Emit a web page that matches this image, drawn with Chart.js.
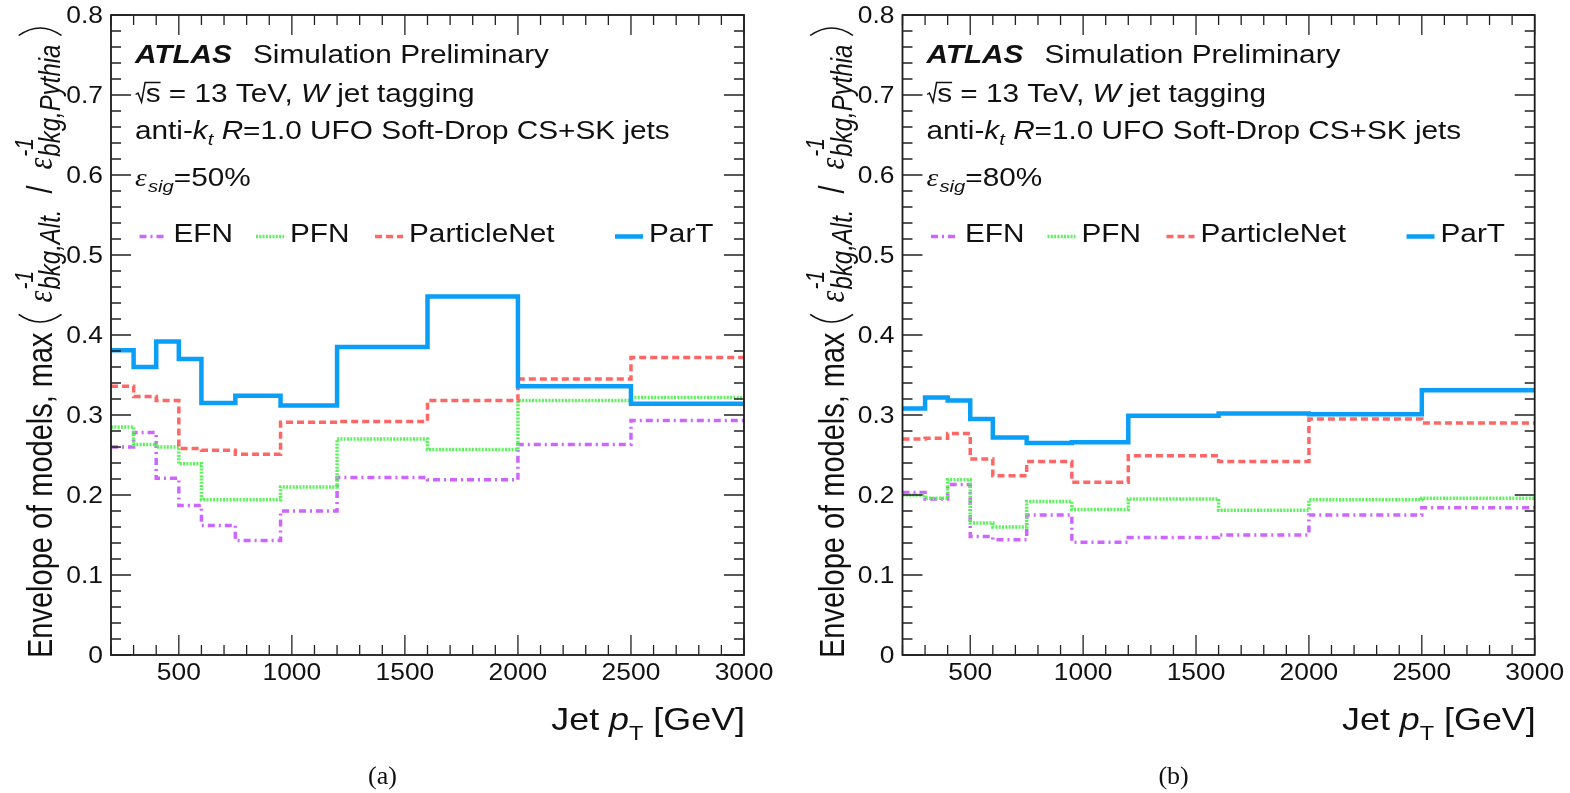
<!DOCTYPE html>
<html><head><meta charset="utf-8">
<script src="https://cdn.jsdelivr.net/npm/chart.js@4.4.1/dist/chart.umd.min.js"></script>
<style>
html,body{margin:0;padding:0;background:#fff;width:1570px;height:793px;overflow:hidden}
canvas{position:absolute;top:0}
#ca{left:0}
#cb{left:785px}
</style></head><body>
<canvas id="ca" width="785" height="793"></canvas>
<canvas id="cb" width="785" height="793"></canvas>
<script>
// ---------------- data ----------------
const binEdges = [200,300,400,500,600,750,950,1200,1600,2000,2500,3000];
const seriesNames = ['EFN','PFN','ParticleNet','ParT'];
// panel (a): eps_sig = 50%
const efn50  = [0.260,0.278,0.221,0.187,0.162,0.143,0.180,0.222,0.219,0.263,0.293];
const pfn50  = [0.285,0.263,0.260,0.239,0.194,0.194,0.210,0.270,0.257,0.318,0.322];
const pnet50 = [0.336,0.323,0.318,0.258,0.256,0.251,0.291,0.292,0.318,0.345,0.372];
const part50 = [0.381,0.360,0.392,0.370,0.315,0.324,0.312,0.385,0.448,0.336,0.314];
// panel (b): eps_sig = 80%
const efn80  = [0.203,0.195,0.213,0.148,0.144,0.175,0.141,0.147,0.150,0.175,0.184];
const pfn80  = [0.200,0.196,0.219,0.165,0.160,0.192,0.182,0.195,0.181,0.194,0.196];
const pnet80 = [0.270,0.271,0.277,0.245,0.224,0.242,0.216,0.249,0.242,0.295,0.290];
const part80 = [0.308,0.322,0.318,0.295,0.272,0.265,0.266,0.299,0.302,0.301,0.331];
const xTickLabels = [500,1000,1500,2000,2500,3000];
const yTickLabels = [0,0.1,0.2,0.3,0.4,0.5,0.6,0.7,0.8];

// ---------------- styles ----------------
const styles = {
  EFN:         {color:'#cc66ff', dash:[7,4,2,4], width:3.5},
  PFN:         {color:'#5cf25c', dash:[2,1.3],   width:3.5},
  ParticleNet: {color:'#ff6666', dash:[7,4],     width:3.5},
  ParT:        {color:'#0b9ef7', dash:[],        width:4.5}
};
const SX = 1.19;
const SANS = '"Liberation Sans", Arial, Helvetica, sans-serif';
const SERIF = '"Liberation Serif", "Times New Roman", serif';
const F = (st, sz, fam) => `${st} ${sz}px ${fam || SANS}`;
const INK = '#111';

function runs(ctx, list, draw) {
  let cx = 0;
  for (const r of list) {
    if (r.gap !== undefined) { cx += r.gap; continue; }
    if (r.paren) {
      if (draw) {
        ctx.save(); ctx.lineWidth = 1.4; ctx.strokeStyle = INK; ctx.beginPath();
        const w = r.w, t = r.top, b = r.bot, m = (t + b) / 2;
        if (r.paren === '(') { ctx.moveTo(cx + w, t); ctx.quadraticCurveTo(cx - w * 0.7, m, cx + w, b); }
        else { ctx.moveTo(cx, t); ctx.quadraticCurveTo(cx + w * 1.7, m, cx, b); }
        ctx.stroke(); ctx.restore();
      }
      cx += r.w; continue;
    }
    if (r.sqrt) {
      ctx.font = r.f; const sw = ctx.measureText(r.sqrt).width;
      if (draw) {
        ctx.save(); ctx.lineWidth = 1.3; ctx.strokeStyle = INK; ctx.beginPath();
        ctx.moveTo(cx + 0.5, -7); ctx.lineTo(cx + 2.5, -8.5); ctx.lineTo(cx + 5.5, 0.5);
        ctx.lineTo(cx + 8.5, -19); ctx.lineTo(cx + 9 + sw, -19); ctx.stroke(); ctx.restore();
        ctx.fillText(r.sqrt, cx + 9, 0);
      }
      cx += 9 + sw; continue;
    }
    if (r.sup !== undefined) {
      ctx.font = r.fsup; const w1 = ctx.measureText(r.sup).width;
      if (draw) ctx.fillText(r.sup, cx, r.supDy);
      ctx.font = r.fsub; const w2 = ctx.measureText(r.sub).width;
      if (draw) ctx.fillText(r.sub, cx, r.subDy);
      cx += Math.max(w1, w2); continue;
    }
    ctx.font = r.f;
    if (draw) ctx.fillText(r.t, cx, r.dy || 0);
    cx += ctx.measureText(r.t).width;
  }
  return cx;
}

function textAt(ctx, x, y, list, align, sx) {
  const k = sx || SX;
  ctx.save();
  ctx.textBaseline = 'alphabetic'; ctx.textAlign = 'left'; ctx.fillStyle = INK;
  const w = runs(ctx, list, false) * k;
  let x0 = x;
  if (align === 'right') x0 = x - w;
  if (align === 'center') x0 = x - w / 2;
  ctx.translate(x0, y); ctx.scale(k, 1);
  runs(ctx, list, true);
  ctx.restore();
}

const atlasPlugin = {
  id: 'atlasDecor',
  afterDraw(chart, args, opts) {
    const ctx = chart.ctx, ca = chart.chartArea;
    const xs = chart.scales.x, ys = chart.scales.y;
    const L = ca.left, R = ca.right, T = ca.top, B = ca.bottom;
    ctx.save();
    // frame
    ctx.strokeStyle = '#1a1a1a'; ctx.lineWidth = 1.8;
    ctx.strokeRect(L, T, R - L, B - T);
    // ticks
    ctx.lineWidth = 1.3; ctx.strokeStyle = '#222';
    ctx.beginPath();
    const xMajor = xs.ticks.map(t => t.value);
    for (let v = xs.min; v <= xs.max + 1e-9; v += 100) {
      const px = xs.getPixelForValue(v);
      const len = xMajor.includes(v) ? 20 : 10;
      ctx.moveTo(px, B); ctx.lineTo(px, B - len);
      ctx.moveTo(px, T); ctx.lineTo(px, T + len);
    }
    for (let i = 0; i <= 40; i++) {
      const v = i * 0.02;
      const py = ys.getPixelForValue(v);
      const len = (i % 5 === 0) ? 20 : 10;
      ctx.moveTo(L, py); ctx.lineTo(L + len, py);
      ctx.moveTo(R, py); ctx.lineTo(R - len, py);
    }
    ctx.stroke();
    // tick labels
    const TSX = 1.1;
    ctx.fillStyle = INK; ctx.font = F('', 24);
    ctx.textBaseline = 'alphabetic'; ctx.textAlign = 'center';
    for (const t of xs.ticks) {
      ctx.save(); ctx.translate(xs.getPixelForValue(t.value), 680); ctx.scale(TSX, 1);
      ctx.fillText(String(t.value), 0, 0); ctx.restore();
    }
    ctx.textBaseline = 'middle'; ctx.textAlign = 'right';
    for (const t of ys.ticks) {
      ctx.save(); ctx.translate(L - 8, ys.getPixelForValue(t.value) + 1); ctx.scale(TSX, 1);
      ctx.fillText(t.value === 0 ? '0' : t.value.toFixed(1), 0, 0); ctx.restore();
    }
    // x title
    textAt(ctx, R + 1, 730, [
      {t: 'Jet ', f: F('', 32)}, {t: 'p', f: F('italic', 32)},
      {t: 'T', f: F('', 21), dy: 10}, {t: ' [GeV]', f: F('', 32)}
    ], 'right', 1.12);
    // y title (rotated)
    ctx.save();
    ctx.translate(L - 59, 658); ctx.rotate(-Math.PI / 2); ctx.scale(1, SX);
    ctx.fillStyle = INK; ctx.textBaseline = 'alphabetic'; ctx.textAlign = 'left';
    const epsF = F('italic', 30, SERIF), supF = F('italic', 21), subF = F('italic', 24);
    runs(ctx, [
      {t: 'Envelope of models, max', f: F('', 29)}, {gap: 9},
      {paren: '(', w: 9, top: -28, bot: 8}, {gap: 12},
      {t: 'ε', f: epsF}, {gap: 1},
      {sup: '-1', sub: 'bkg,Alt.', fsup: supF, fsub: subF, supDy: -16, subDy: 7},
      {gap: 16}, {t: '/', f: F('', 29)}, {gap: 16},
      {t: 'ε', f: epsF}, {gap: 1},
      {sup: '-1', sub: 'bkg,Pythia', fsup: supF, fsub: subF, supDy: -16, subDy: 7},
      {gap: 9}, {paren: ')', w: 9, top: -28, bot: 8}
    ], true);
    ctx.restore();
    // ATLAS header
    const hx = L + 24;
    textAt(ctx, hx, 62.5, [{t: 'ATLAS', f: F('italic bold', 25)}]);
    textAt(ctx, L + 142, 62.5, [{t: 'Simulation Preliminary', f: F('', 25)}]);
    textAt(ctx, hx, 101.5, [
      {sqrt: 's', f: F('', 25)}, {t: ' = 13 TeV, ', f: F('', 25)},
      {t: 'W', f: F('italic', 25)}, {t: ' jet tagging', f: F('', 25)}
    ]);
    textAt(ctx, hx, 138.5, [
      {t: 'anti-', f: F('', 25)}, {t: 'k', f: F('italic', 25)},
      {t: 't', f: F('italic', 17), dy: 6}, {t: ' ', f: F('', 25)},
      {t: 'R', f: F('italic', 25)}, {t: '=1.0 UFO Soft-Drop CS+SK jets', f: F('', 25)}
    ]);
    textAt(ctx, hx, 185.5, [
      {t: 'ε', f: F('italic', 25, SERIF)}, {gap: 1},
      {t: 'sig', f: F('italic', 17), dy: 6}, {t: '=' + opts.eff, f: F('', 25)}
    ]);
    // legend
    const legTextX = [62.5, 179, 298, 538];
    chart.data.datasets.forEach((ds, i) => {
      const tx = L + legTextX[i];
      ctx.save();
      ctx.strokeStyle = ds.borderColor; ctx.lineWidth = ds.borderWidth;
      ctx.setLineDash(ds.borderDash || []);
      ctx.beginPath(); ctx.moveTo(tx - 34, 236.5); ctx.lineTo(tx - 6, 236.5); ctx.stroke();
      ctx.restore();
      textAt(ctx, tx, 242, [{t: ds.label, f: F('', 25)}]);
    });
    // caption (document text, not stretched)
    textAt(ctx, (L + R) / 2 - 45, 784, [{t: opts.caption, f: F('', 26, SERIF)}], 'center', 1.0);
    ctx.restore();
  }
};

function makeChart(id, vals, eff, caption, yWidth, padRight) {
  const datasets = seriesNames.map((n, i) => ({
    label: n,
    data: binEdges.map((e, k) => ({x: e, y: vals[i][Math.min(k, vals[i].length - 1)]})),
    borderColor: styles[n].color,
    borderDash: styles[n].dash,
    borderWidth: styles[n].width,
    borderCapStyle: 'butt',
    borderJoinStyle: 'miter',
    stepped: true,
    pointRadius: 0,
    fill: false,
    order: 3 - i
  }));
  return new Chart(document.getElementById(id), {
    type: 'line',
    data: {datasets},
    options: {
      responsive: false, animation: false, devicePixelRatio: 1,
      layout: {padding: {left: 0, top: 15, right: padRight, bottom: 0}},
      plugins: {legend: {display: false}, tooltip: {enabled: false},
                atlasDecor: {eff, caption}},
      scales: {
        x: {type: 'linear', min: 200, max: 3000,
            grid: {display: false}, border: {display: false},
            ticks: {display: false},
            afterBuildTicks: s => { s.ticks = xTickLabels.map(v => ({value: v})); },
            afterFit: s => { s.height = 138; }},
        y: {type: 'linear', min: 0, max: 0.8,
            grid: {display: false}, border: {display: false},
            ticks: {display: false},
            afterBuildTicks: s => { s.ticks = yTickLabels.map(v => ({value: v})); },
            afterFit: s => { s.width = yWidth; }}
      }
    },
    plugins: [atlasPlugin]
  });
}

makeChart('ca', [efn50, pfn50, pnet50, part50], '50%', '(a)', 111, 41);
makeChart('cb', [efn80, pfn80, pnet80, part80], '80%', '(b)', 117.5, 35.3);
</script>
</body></html>
